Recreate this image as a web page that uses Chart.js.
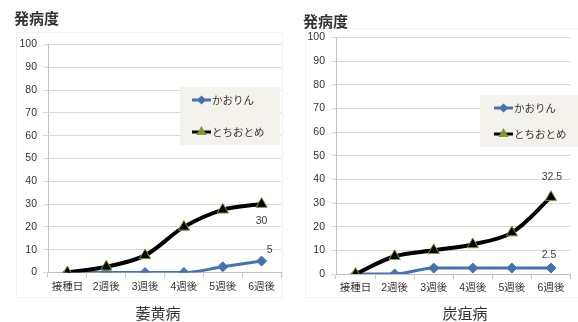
<!DOCTYPE html>
<html>
<head>
<meta charset="utf-8">
<script src="https://cdn.jsdelivr.net/npm/chart.js@4.4.1/dist/chart.umd.min.js"></script>
<style>
  html, body { margin: 0; padding: 0; background: #fff; }
  canvas { position: absolute; top: 0; }
</style>
</head>
<body>
<canvas id="chartIou" width="290" height="322" style="left:0"></canvas>
<canvas id="chartTanso" width="288" height="322" style="left:290px"></canvas>
<script>
// data
const weeks = ['接種日', '2週後', '3週後', '4週後', '5週後', '6週後'];
const varieties = ['かおりん', 'とちおとめ'];
const diseases = ['萎黄病', '炭疽病'];
const yLabel = '発病度';
const yTicks = [0, 10, 20, 30, 40, 50, 60, 70, 80, 90, 100];

const iouKaorin = [0, 0, 0, 0, 2.5, 5];
const iouTochiotome = [0, 2.5, 7.5, 20, 27.5, 30];
const tansoKaorin = [0, 0, 2.5, 2.5, 2.5, 2.5];
const tansoTochiotome = [0, 7.5, 10, 12.5, 17.5, 32.5];

const BLUE = '#4472b0';
const NUM_FONT = "'Liberation Sans', 'Noto Sans CJK JP', sans-serif";
const JP_FONT = "'Noto Sans CJK JP', sans-serif";

// titles, legend box, value labels
function makeDecor(cfg) {
  return {
    id: 'decor',
    beforeDraw(chart) {
      const ctx = chart.ctx;
      ctx.save();
      ctx.strokeStyle = '#f3f3f3';
      ctx.lineWidth = 1;
      const f = cfg.frame;
      ctx.strokeRect(f[0] + 0.5, f[1] + 0.5, f[2], f[3]);
      ctx.restore();
    },
    afterDraw(chart) {
      const ctx = chart.ctx;
      ctx.save();
      // y title on top
      ctx.fillStyle = '#333';
      ctx.font = 'bold 15px ' + JP_FONT;
      ctx.textBaseline = 'middle';
      ctx.textAlign = 'left';
      ctx.fillText(yLabel, cfg.yTitle[0], cfg.yTitle[1]);
      // x title
      ctx.font = '15px ' + JP_FONT;
      ctx.textAlign = 'center';
      ctx.fillText(cfg.xTitle, cfg.xTitlePos[0], cfg.xTitlePos[1]);

      // legend
      const lb = cfg.legend;
      ctx.fillStyle = '#f3f2ec';
      ctx.fillRect(lb.x, lb.y, lb.w, lb.h);
      chart.data.datasets.forEach((ds, i) => {
        const y = lb.rows[i];
        ctx.strokeStyle = ds.borderColor;
        ctx.lineWidth = 3;
        ctx.beginPath();
        ctx.moveTo(lb.lineX, y);
        ctx.lineTo(lb.lineX + 19, y);
        ctx.stroke();
        ctx.fillStyle = ds.pointBackgroundColor;
        ctx.strokeStyle = ds.pointBorderColor;
        Chart.helpers.drawPoint(ctx, {
          pointStyle: ds.pointStyle, rotation: 0,
          radius: ds.pointStyle === 'triangle' ? 3 : 2.5,
          borderWidth: 0.8
        }, lb.lineX + 9.5, y);
        ctx.fillStyle = '#333';
        ctx.font = '10.5px ' + JP_FONT;
        ctx.textAlign = 'left';
        ctx.textBaseline = 'middle';
        ctx.fillText(ds.label, lb.lineX + 20, y);
      });

      // value labels at the last point
      ctx.font = '10.5px ' + NUM_FONT;
      ctx.fillStyle = '#404040';
      ctx.textAlign = 'center';
      ctx.textBaseline = 'middle';
      cfg.valueLabels.forEach(v => {
        const pt = chart.getDatasetMeta(v.ds).data[v.idx];
        const val = chart.data.datasets[v.ds].data[v.idx];
        ctx.fillText(String(val), pt.x + v.dx, pt.y + v.dy);
      });
      ctx.restore();
    }
  };
}

function makeChart(id, kaorin, tochiotome, cfg) {
  return new Chart(document.getElementById(id), {
    type: 'line',
    data: {
      labels: weeks,
      datasets: [{
        label: varieties[0],
        data: kaorin,
        borderColor: BLUE,
        borderWidth: 3,
        pointStyle: 'rectRot',
        pointRadius: 5,
        pointBackgroundColor: BLUE,
        pointBorderColor: BLUE,
        pointBorderWidth: 1,
        cubicInterpolationMode: 'monotone',
        order: 1
      }, {
        label: varieties[1],
        data: tochiotome,
        borderColor: '#000',
        borderWidth: 4,
        pointStyle: 'triangle',
        pointRadius: 6.5,
        pointBackgroundColor: '#000',
        pointBorderColor: '#7f9a30',
        pointBorderWidth: 1,
        tension: 0.33,
        order: 0
      }]
    },
    options: {
      responsive: false,
      animation: false,
      layout: { padding: { left: 0, top: cfg.top, right: cfg.right, bottom: 0 } },
      plugins: { legend: { display: false }, tooltip: { enabled: false } },
      scales: {
        x: {
          offset: true,
          grid: { offset: true, drawOnChartArea: false, drawTicks: true, tickLength: 5, color: '#c8c8c8' },
          border: { color: '#c0c0c0' },
          ticks: { color: '#333', padding: 3, font: { size: 10.5, family: NUM_FONT }, maxRotation: 0, autoSkip: false },
          afterFit: s => { s.height = 322 - cfg.bottom; }
        },
        y: {
          min: 0, max: 100,
          afterBuildTicks: s => { s.ticks = yTicks.map(v => ({ value: v })); },
          grid: { color: '#d9d9d9', tickLength: 5 },
          border: { color: '#c0c0c0' },
          ticks: { color: '#333', padding: 6, font: { size: 10.5, family: NUM_FONT } },
          afterFit: s => { s.width = cfg.axisX; }
        }
      }
    },
    plugins: [makeDecor(cfg)]
  });
}

makeChart('chartIou', iouKaorin, iouTochiotome, {
  top: 44.5, bottom: 272.5, right: 9, axisX: 48,
  frame: [16, 32, 266, 265],
  yTitle: [14, 18.5], xTitle: diseases[0], xTitlePos: [158, 313],
  legend: { x: 180, y: 87, w: 100, h: 58, rows: [100, 132], lineX: 192 },
  valueLabels: [{ ds: 0, idx: 5, dx: 8, dy: -11 }, { ds: 1, idx: 5, dx: 0, dy: 17 }]
});

makeChart('chartTanso', tansoKaorin, tansoTochiotome, {
  top: 37.5, bottom: 274, right: 2, axisX: 46,
  frame: [15, 28, 280, 269],
  yTitle: [13, 21.5], xTitle: diseases[1], xTitlePos: [175, 313.5],
  legend: { x: 190, y: 95, w: 98, h: 52, rows: [108, 134], lineX: 204 },
  valueLabels: [{ ds: 0, idx: 5, dx: -2, dy: -13 }, { ds: 1, idx: 5, dx: 1, dy: -20 }]
});
</script>
</body>
</html>
